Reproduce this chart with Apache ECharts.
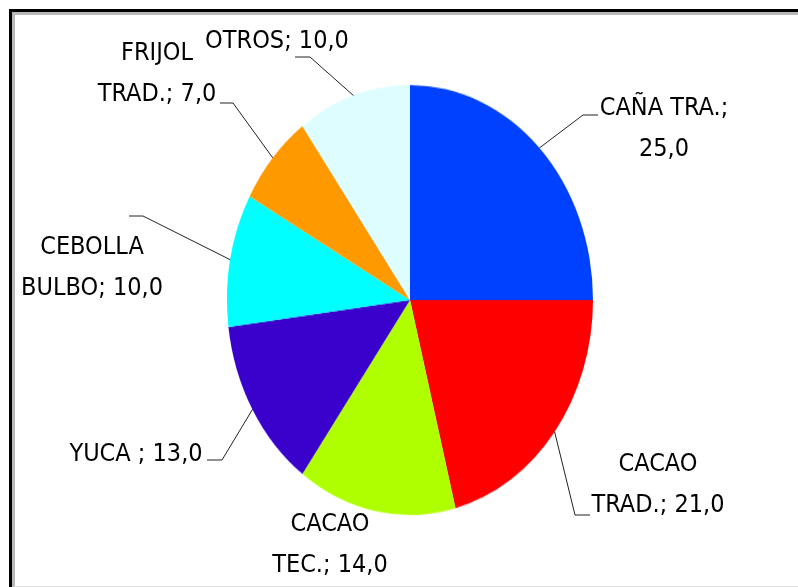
<!DOCTYPE html>
<html>
<head>
<meta charset="utf-8">
<script src="https://cdn.jsdelivr.net/npm/echarts@6/dist/echarts.min.js"></script>
<style>
  html, body { margin: 0; padding: 0; background: #fff; overflow: hidden; }
  #wrap { position: relative; width: 798px; height: 587px; overflow: hidden; background: #fff; }
  #frameOuter { position: absolute; left: 9px; top: 9px; width: 1000px; height: 590px; border-left: 3px solid #000; border-top: 3px solid #000; box-sizing: border-box; }
  #frameInner { position: absolute; left: 12px; top: 12px; width: 1000px; height: 575px; border-left: 3px solid #b8b8b8; border-top: 3px solid #b8b8b8; border-bottom: 1px solid #dcdcdc; box-sizing: border-box; }
  #pie { position: absolute; left: 0; top: 0; width: 798px; height: 587px; transform-origin: 410px 300px; }
  #labels { position: absolute; left: 0; top: 0; width: 798px; height: 587px; }
</style>
</head>
<body>
<div id="wrap">
  <div id="frameOuter"></div>
  <div id="frameInner"></div>
  <div id="pie"></div>
  <div id="labels"></div>
</div>
<script>
// ---- data ----
var categories = ['CAÑA TRA.', 'CACAO\nTRAD.', 'CACAO\nTEC.', 'YUCA ', 'CEBOLLA\nBULBO', 'FRIJOL\nTRAD.', 'OTROS'];
var values = [25.0, 21.0, 14.0, 13.0, 10.0, 7.0, 10.0];
var valueBreak = ['\n', ' ', ' ', ' ', ' ', ' ', ' '];
var colors = ['#0040FF', '#FF0000', '#B0FF00', '#3A00CC', '#00FFFF', '#FF9900', '#DDFDFF'];

// ---- layout (positions kept separate from data) ----
var CX = 410, CY = 300, RX = 183, RY = 215;
var labelPos = [
  { x: 664, y: 129, bend: [583, 115], end: [598, 115] },
  { x: 658, y: 485, bend: [575, 515], end: [590, 515] },
  { x: 330, y: 545, bend: null, end: null },
  { x: 136, y: 454, bend: [222, 460], end: [207, 460] },
  { x: 92,  y: 268, bend: [143, 216], end: [129, 216] },
  { x: 157, y: 74,  bend: [233, 103], end: [220, 103] },
  { x: 277, y: 41,  bend: [310, 57],  end: [295, 57] }
];

var total = values.reduce(function (a, b) { return a + b; }, 0);
function midPoint(i) {
  var cum = 0;
  for (var k = 0; k < i; k++) cum += values[k];
  var th = 2 * Math.PI * (cum + values[i] / 2) / total;
  return [CX + RX * Math.sin(th), CY - RY * Math.cos(th)];
}

var pieData = categories.map(function (c, i) {
  return { name: c, value: values[i], itemStyle: { color: colors[i] } };
});

// pie chart, stretched vertically to the ellipse of the reference
document.getElementById('pie').style.transform = 'scaleY(' + (RY / RX) + ')';
var pieChart = echarts.init(document.getElementById('pie'), null, { renderer: 'canvas' });
pieChart.setOption({
  animation: false,
  backgroundColor: 'transparent',
  series: [{
    type: 'pie',
    center: [CX, CY],
    radius: [0, RX],
    startAngle: 90,
    clockwise: true,
    silent: true,
    label: { show: false },
    labelLine: { show: false },
    itemStyle: { borderWidth: 0 },
    data: pieData
  }]
});

// label layer
var labelData = categories.map(function (c, i) {
  return {
    name: c, value: values[i],
    itemStyle: { color: 'rgba(0,0,0,0)' },
    labelLine: { show: labelPos[i].bend !== null }
  };
});
var labelChart = echarts.init(document.getElementById('labels'), null, { renderer: 'canvas' });
labelChart.setOption({
  animation: false,
  backgroundColor: 'transparent',
  series: [{
    type: 'pie',
    center: [CX, CY],
    radius: [0, RX],
    startAngle: 90,
    clockwise: true,
    silent: true,
    itemStyle: { borderWidth: 0 },
    label: {
      show: true,
      position: 'outside',
      color: '#000',
      fontFamily: "'DejaVu Sans Condensed', 'Liberation Sans Narrow', sans-serif",
      fontSize: 25,
      lineHeight: 41,
      align: 'center',
      formatter: function (p) {
        var i = p.dataIndex;
        return categories[i] + ';' + valueBreak[i] + values[i].toFixed(1).replace('.', ',');
      }
    },
    labelLine: { show: true, lineStyle: { color: '#222', width: 1 } },
    labelLayout: function (params) {
      var i = params.dataIndex;
      var lp = labelPos[i];
      var out = { x: lp.x, y: lp.y, align: 'center', verticalAlign: 'middle' };
      if (lp.bend) {
        out.labelLinePoints = [midPoint(i), lp.bend, lp.end];
      }
      return out;
    },
    data: labelData
  }]
});
</script>
</body>
</html>
